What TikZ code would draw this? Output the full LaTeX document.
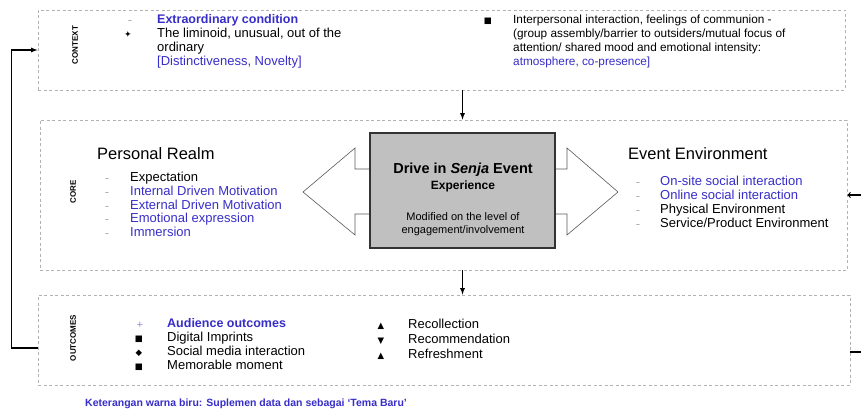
\documentclass[tikz,border=0pt]{standalone}
\usepackage{fontspec}
\setmainfont{Liberation Sans}
\newfontfamily\symf{DejaVu Sans}
\usetikzlibrary{positioning}
\definecolor{mblue}{RGB}{55,45,200}
\definecolor{boxgray}{RGB}{192,192,192}
\tikzset{
  zone/.style={draw=gray!60, dash pattern=on 3pt off 2.5pt, line width=0.8pt, inner sep=0pt},
  item/.style={anchor=base west, inner sep=0pt, font=\fontsize{13}{14}\selectfont},
  bul/.style={anchor=base, inner sep=0pt, font=\symf\fontsize{8.5}{10}\selectfont},
  side/.style={rotate=90, inner sep=0pt, font=\fontsize{8}{9}\selectfont\bfseries},
  head/.style={anchor=base west, inner sep=0pt, font=\fontsize{16.5}{18}\selectfont},
  blockarrow/.style={draw=gray!70!black, fill=white, line width=0.6pt},
  flow/.style={-latex, line width=1.2pt}
}
\begin{document}
\begin{tikzpicture}[x=1pt, y=-1pt]
    \useasboundingbox (0,0) rectangle (861,409);

    % three zones
    \node[zone, minimum width=807pt, minimum height=80pt] (ctx) at (441.5,50) {};
    \node[zone, minimum width=807pt, minimum height=150pt] (mid) at (443.5,195) {};
    \node[zone, minimum width=812pt, minimum height=90pt] (out) at (444,340) {};

    \node[side] (lctx) at (75,45) {CONTEXT};
    \node[side] (lcore) at (73,192) {CORE};
    \node[side] (lout) at (73,338) {OUTCOMES};

    % context
    \node[bul, gray] (cb1) at (130,24) {–};
    \node[item, mblue, font=\fontsize{12.5}{14}\selectfont\bfseries] (ct1) at (157,24) {Extraordinary condition};
    \node[bul] (cb2) at (128,38) {✦};
    \node[item] (ct2) at (157,38) {The liminoid, unusual, out of the};
    \node[item] (ct3) at (157,52) {ordinary};
    \node[item, mblue] (ct4) at (157,66) {[Distinctiveness, Novelty]};

    \node[bul] (cb3) at (488,24) {■};
    \node[item, font=\fontsize{11.8}{14}\selectfont] (cr1) at (513,24) {Interpersonal interaction, feelings of communion -};
    \node[item, font=\fontsize{11.8}{14}\selectfont] (cr2) at (513,38) {(group assembly/barrier to outsiders/mutual focus of};
    \node[item, font=\fontsize{11.8}{14}\selectfont] (cr3) at (513,52) {attention/ shared mood and emotional intensity:};
    \node[item, mblue, font=\fontsize{11.8}{14}\selectfont] (cr4) at (513,66) {atmosphere, co-presence]};

    % core
    \draw[blockarrow] (370,169) -- (355,169) -- (355,148) -- (303,192) -- (355,235) -- (355,214) -- (370,214);
    \draw[blockarrow] (555,169) -- (567,169) -- (567,148) -- (618,192) -- (567,235) -- (567,214) -- (555,214);
    \node[draw=black!80, line width=2pt, fill=boxgray, minimum width=185pt, minimum height=115pt] (core) at (462.5,190.5) {};
    \node[anchor=base, inner sep=0pt, font=\fontsize{14.5}{16}\selectfont\bfseries] (ttl) at (463,173) {Drive in \textit{Senja} Event};
    \node[anchor=base, inner sep=0pt, font=\fontsize{12}{13}\selectfont\bfseries] (exp) at (463,189) {Experience};
    \node[anchor=base, inner sep=0pt, font=\fontsize{11}{12}\selectfont] (mod1) at (463,220.5) {Modified on the level of};
    \node[anchor=base, inner sep=0pt, font=\fontsize{11}{12}\selectfont] (mod2) at (463,233.5) {engagement/involvement};

    \node[head] (pr) at (97,159) {Personal Realm};
    \foreach \t/\c [count=\i] in {Expectation/black, Internal Driven Motivation/mblue,
        External Driven Motivation/mblue, Emotional expression/mblue, Immersion/mblue} {
      \node[bul, gray] (prb\i) at (107,{181.5+13.75*(\i-1)}) {–};
      \node[item, \c] (pr\i) at (130,{181.5+13.75*(\i-1)}) {\t};
    }

    \node[head] (ee) at (628,159) {Event Environment};
    \foreach \t/\c [count=\i] in {On-site social interaction/mblue, Online social interaction/mblue,
        Physical Environment/black, {Service/Product Environment}/black} {
      \node[bul, gray] (eeb\i) at (638,{185.5+14*(\i-1)}) {–};
      \node[item, \c] (ee\i) at (660,{185.5+14*(\i-1)}) {\t};
    }

    % outcomes
    \node[bul, mblue!60] (ob1) at (140,327) {+};
    \node[item, mblue, font=\fontsize{12.5}{14}\selectfont\bfseries] (ot1) at (167,327) {Audience outcomes};
    \foreach \b/\t [count=\i from 2] in {■/Digital Imprints, ◆/Social media interaction, ■/Memorable moment} {
      \node[bul] (ob\i) at (139,{327+14.3*(\i-1)}) {\b};
      \node[item] (ot\i) at (167,{327+14.3*(\i-1)}) {\t};
    }
    \foreach \b/\t [count=\i] in {▲/Recollection, ▼/Recommendation, ▲/Refreshment} {
      \node[bul] (rb\i) at (381,{328.5+15*(\i-1)}) {\b};
      \node[item] (rt\i) at (408,{328.5+15*(\i-1)}) {\t};
    }

    % flow between zones
    \draw[flow] (ctx.south -| core.north) -- (mid.north -| core.north);
    \draw[flow] (mid.south -| core.south) -- (out.north -| core.south);
    \draw[flow] ([yshift=-8pt]out.west) -- ++(-26,0) |- (ctx.west);
    \draw[line width=1.2pt] ([yshift=-12pt]out.east) -- ++(11,0);
    \draw[flow, <-] (mid.east) -- ++(14,0);

    \node[anchor=base west, inner sep=0pt, mblue, font=\fontsize{10.5}{12}\selectfont\bfseries] (note) at (85,406.5)
      {Keterangan warna biru: Suplemen data dan sebagai `Tema Baru'};
\end{tikzpicture}
\end{document}
